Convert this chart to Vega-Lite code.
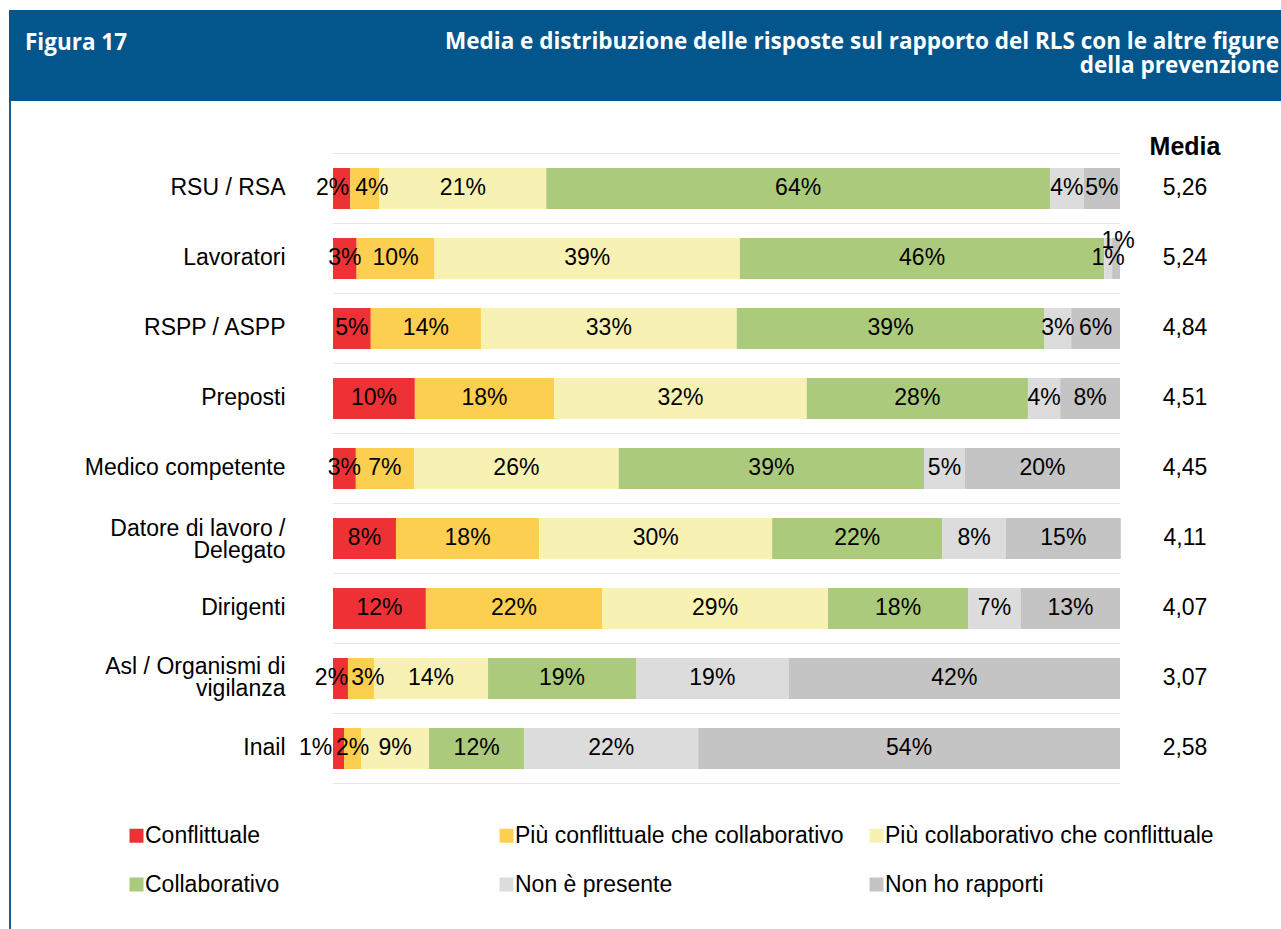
{
  "$schema": "https://vega.github.io/schema/vega-lite/v6.json",
  "padding": {"left": 7, "top": 10, "right": 0, "bottom": 0},
  "background": "white",
  "bounds": "flush",
  "spacing": 0,
  "config": {
    "view": {"stroke": null},
    "font": "Liberation Sans",
    "locale": {"number": {"decimal": ",", "thousands": ".", "grouping": [3], "currency": ["", " €"]}},
    "axisY": {"domain": false, "ticks": false, "grid": false, "labelPadding": 48, "labelFontSize": 23, "labelColor": "black", "labelLimit": 0, "labelFont": "Liberation Sans", "labelLineHeight": 22}
  },
  "datasets": {
    "dist": [
      {"category": "RSU / RSA", "status": "Conflittuale", "pct": 0.022},
      {"category": "RSU / RSA", "status": "Più conflittuale che collaborativo", "pct": 0.037},
      {"category": "RSU / RSA", "status": "Più collaborativo che conflittuale", "pct": 0.212},
      {"category": "RSU / RSA", "status": "Collaborativo", "pct": 0.640},
      {"category": "RSU / RSA", "status": "Non è presente", "pct": 0.043},
      {"category": "RSU / RSA", "status": "Non ho rapporti", "pct": 0.046},
      {"category": "Lavoratori", "status": "Conflittuale", "pct": 0.030},
      {"category": "Lavoratori", "status": "Più conflittuale che collaborativo", "pct": 0.099},
      {"category": "Lavoratori", "status": "Più collaborativo che conflittuale", "pct": 0.388},
      {"category": "Lavoratori", "status": "Collaborativo", "pct": 0.463},
      {"category": "Lavoratori", "status": "Non è presente", "pct": 0.010},
      {"category": "Lavoratori", "status": "Non ho rapporti", "pct": 0.010},
      {"category": "RSPP / ASPP", "status": "Conflittuale", "pct": 0.048},
      {"category": "RSPP / ASPP", "status": "Più conflittuale che collaborativo", "pct": 0.140},
      {"category": "RSPP / ASPP", "status": "Più collaborativo che conflittuale", "pct": 0.325},
      {"category": "RSPP / ASPP", "status": "Collaborativo", "pct": 0.391},
      {"category": "RSPP / ASPP", "status": "Non è presente", "pct": 0.034},
      {"category": "RSPP / ASPP", "status": "Non ho rapporti", "pct": 0.062},
      {"category": "Preposti", "status": "Conflittuale", "pct": 0.104},
      {"category": "Preposti", "status": "Più conflittuale che collaborativo", "pct": 0.177},
      {"category": "Preposti", "status": "Più collaborativo che conflittuale", "pct": 0.321},
      {"category": "Preposti", "status": "Collaborativo", "pct": 0.281},
      {"category": "Preposti", "status": "Non è presente", "pct": 0.041},
      {"category": "Preposti", "status": "Non ho rapporti", "pct": 0.076},
      {"category": "Medico competente", "status": "Conflittuale", "pct": 0.029},
      {"category": "Medico competente", "status": "Più conflittuale che collaborativo", "pct": 0.074},
      {"category": "Medico competente", "status": "Più collaborativo che conflittuale", "pct": 0.260},
      {"category": "Medico competente", "status": "Collaborativo", "pct": 0.388},
      {"category": "Medico competente", "status": "Non è presente", "pct": 0.052},
      {"category": "Medico competente", "status": "Non ho rapporti", "pct": 0.197},
      {"category": "Datore di lavoro / Delegato", "status": "Conflittuale", "pct": 0.080},
      {"category": "Datore di lavoro / Delegato", "status": "Più conflittuale che collaborativo", "pct": 0.182},
      {"category": "Datore di lavoro / Delegato", "status": "Più collaborativo che conflittuale", "pct": 0.296},
      {"category": "Datore di lavoro / Delegato", "status": "Collaborativo", "pct": 0.216},
      {"category": "Datore di lavoro / Delegato", "status": "Non è presente", "pct": 0.081},
      {"category": "Datore di lavoro / Delegato", "status": "Non ho rapporti", "pct": 0.146},
      {"category": "Dirigenti", "status": "Conflittuale", "pct": 0.118},
      {"category": "Dirigenti", "status": "Più conflittuale che collaborativo", "pct": 0.224},
      {"category": "Dirigenti", "status": "Più collaborativo che conflittuale", "pct": 0.287},
      {"category": "Dirigenti", "status": "Collaborativo", "pct": 0.178},
      {"category": "Dirigenti", "status": "Non è presente", "pct": 0.067},
      {"category": "Dirigenti", "status": "Non ho rapporti", "pct": 0.126},
      {"category": "Asl / Organismi di vigilanza", "status": "Conflittuale", "pct": 0.019},
      {"category": "Asl / Organismi di vigilanza", "status": "Più conflittuale che collaborativo", "pct": 0.033},
      {"category": "Asl / Organismi di vigilanza", "status": "Più collaborativo che conflittuale", "pct": 0.145},
      {"category": "Asl / Organismi di vigilanza", "status": "Collaborativo", "pct": 0.188},
      {"category": "Asl / Organismi di vigilanza", "status": "Non è presente", "pct": 0.194},
      {"category": "Asl / Organismi di vigilanza", "status": "Non ho rapporti", "pct": 0.421},
      {"category": "Inail", "status": "Conflittuale", "pct": 0.014},
      {"category": "Inail", "status": "Più conflittuale che collaborativo", "pct": 0.022},
      {"category": "Inail", "status": "Più collaborativo che conflittuale", "pct": 0.086},
      {"category": "Inail", "status": "Collaborativo", "pct": 0.121},
      {"category": "Inail", "status": "Non è presente", "pct": 0.221},
      {"category": "Inail", "status": "Non ho rapporti", "pct": 0.536}
    ],
    "media": [
      {"category": "RSU / RSA", "media": 5.26},
      {"category": "Lavoratori", "media": 5.24},
      {"category": "RSPP / ASPP", "media": 4.84},
      {"category": "Preposti", "media": 4.51},
      {"category": "Medico competente", "media": 4.45},
      {"category": "Datore di lavoro / Delegato", "media": 4.11},
      {"category": "Dirigenti", "media": 4.07},
      {"category": "Asl / Organismi di vigilanza", "media": 3.07},
      {"category": "Inail", "media": 2.58}
    ]
  },
  "vconcat": [
    {
      "width": 1272,
      "height": 91,
      "view": {"fill": "#03568b", "stroke": null},
      "data": {"values": [{"t": 1}]},
      "layer": [
        {
          "mark": {"type": "text", "text": "Figura 17", "font": "Open Sans", "fontWeight": "bold", "fontSize": 22.5, "color": "white", "align": "left", "baseline": "alphabetic", "dx": 16},
          "encoding": {
            "x": {"datum": 0, "type": "quantitative", "scale": {"domain": [0, 1], "nice": false, "zero": false}, "axis": null},
            "y": {"datum": 40, "type": "quantitative", "scale": {"domain": [0, 91], "reverse": true, "nice": false, "zero": false}, "axis": null}
          }
        },
        {
          "mark": {"type": "text", "text": ["Media e distribuzione delle risposte sul rapporto del RLS con le altre figure", "della prevenzione"], "font": "Open Sans", "fontWeight": "bold", "fontSize": 22.5, "color": "white", "align": "right", "baseline": "alphabetic", "lineHeight": 24, "dx": -2},
          "encoding": {
            "x": {"datum": 1, "type": "quantitative", "scale": {"domain": [0, 1], "nice": false, "zero": false}, "axis": null},
            "y": {"datum": 39, "type": "quantitative", "scale": {"domain": [0, 91], "reverse": true, "nice": false, "zero": false}, "axis": null}
          }
        }
      ]
    },
    {
      "bounds": "flush",
      "spacing": 322,
      "hconcat": [
        {
          "width": 2,
          "height": 828,
          "view": {"fill": "#1b5e95", "stroke": null},
          "data": {"values": [{"t": 1}]},
          "mark": {"type": "point", "opacity": 0},
          "encoding": {}
        },
        {
          "width": 787,
          "height": 683,
          "data": {"name": "dist"},
          "transform": [
            {"calculate": "indexof(['Conflittuale','Più conflittuale che collaborativo','Più collaborativo che conflittuale','Collaborativo','Non è presente','Non ho rapporti'], datum.status)", "as": "k"},
            {"stack": "pct", "groupby": ["category"], "sort": [{"field": "k"}], "as": ["x0", "x1"]},
            {"calculate": "(datum.x0 + datum.x1) / 2", "as": "xm"}
          ],
          "layer": [
            {
              "data": {"name": "media"},
              "mark": {"type": "rule", "color": "#e6e6e6", "strokeWidth": 1, "yOffset": -35},
              "encoding": {
                "x": {"datum": 0, "type": "quantitative", "scale": {"domain": [0, 1], "nice": false, "zero": false}, "axis": null},
                "x2": {"datum": 1},
                "y": {"field": "category", "type": "nominal", "title": null, "scale": {"domain": ["RSU / RSA", "Lavoratori", "RSPP / ASPP", "Preposti", "Medico competente", "Datore di lavoro / Delegato", "Dirigenti", "Asl / Organismi di vigilanza", "Inail"], "paddingInner": 0.414, "paddingOuter": 0.5856, "align": 0.817}}
              }
            },
            {
              "data": {"name": "media"},
              "transform": [{"filter": "datum.category == 'Inail'"}],
              "mark": {"type": "rule", "color": "#e6e6e6", "strokeWidth": 1, "yOffset": 35},
              "encoding": {
                "x": {"datum": 0, "type": "quantitative", "scale": {"domain": [0, 1], "nice": false, "zero": false}, "axis": null},
                "x2": {"datum": 1},
                "y": {"field": "category", "type": "nominal", "title": null}
              }
            },
            {
              "mark": {"type": "bar"},
              "encoding": {
                "x": {"field": "x0", "type": "quantitative", "scale": {"domain": [0, 1], "nice": false, "zero": false}, "axis": null},
                "x2": {"field": "x1"},
                "y": {"field": "category", "type": "nominal", "title": null, "axis": {
                  "labelExpr": "datum.label == 'Datore di lavoro / Delegato' ? ['Datore di lavoro /', 'Delegato'] : datum.label == 'Asl / Organismi di vigilanza' ? ['Asl / Organismi di', 'vigilanza'] : datum.label",
                  "labelOffset": {"expr": "datum.value == 'Datore di lavoro / Delegato' ? -9 : datum.value == 'Asl / Organismi di vigilanza' ? -11 : 0"}
                }},
                "color": {
                  "field": "status",
                  "type": "nominal",
                  "scale": {
                    "domain": ["Conflittuale", "Più conflittuale che collaborativo", "Più collaborativo che conflittuale", "Collaborativo", "Non è presente", "Non ho rapporti"],
                    "range": ["#ee3135", "#fdcf50", "#f8f1b4", "#acca7b", "#dcdcdc", "#c4c4c4"]
                  },
                  "legend": {
                    "orient": "none", "legendX": 116, "legendY": 814, "columns": 3, "direction": "horizontal", "gridAlign": "all",
                    "columnPadding": 21, "rowPadding": 25, "symbolType": "square", "symbolSize": 196,
                    "symbolStrokeWidth": 0, "symbolOpacity": 1, "labelFontSize": 23, "labelOffset": -3,
                    "labelColor": "black", "labelLimit": 0, "labelFont": "Liberation Sans", "title": null, "padding": 0
                  }
                }
              }
            },
            {
              "transform": [{"filter": "!((datum.status == 'Conflittuale' && indexof(['RSU / RSA', 'Asl / Organismi di vigilanza', 'Inail'], datum.category) >= 0) || (datum.status == 'Più conflittuale che collaborativo' && indexof(['RSU / RSA', 'Asl / Organismi di vigilanza'], datum.category) >= 0) || (datum.category == 'Lavoratori' && datum.status == 'Non ho rapporti'))"}],
              "mark": {"type": "text", "fontSize": 23, "color": "black", "font": "Liberation Sans"},
              "encoding": {
                "x": {"field": "xm", "type": "quantitative", "scale": {"domain": [0, 1], "nice": false, "zero": false}, "axis": null},
                "y": {"field": "category", "type": "nominal", "title": null},
                "text": {"field": "pct", "type": "quantitative", "format": ".0%"}
              }
            },
            {
              "transform": [{"filter": "datum.status == 'Conflittuale' && indexof(['RSU / RSA', 'Asl / Organismi di vigilanza'], datum.category) >= 0"}],
              "mark": {"type": "text", "fontSize": 23, "color": "black", "font": "Liberation Sans", "dx": -9},
              "encoding": {
                "x": {"field": "xm", "type": "quantitative", "scale": {"domain": [0, 1], "nice": false, "zero": false}, "axis": null},
                "y": {"field": "category", "type": "nominal", "title": null},
                "text": {"field": "pct", "type": "quantitative", "format": ".0%"}
              }
            },
            {
              "transform": [{"filter": "datum.status == 'Più conflittuale che collaborativo' && indexof(['RSU / RSA', 'Asl / Organismi di vigilanza'], datum.category) >= 0"}],
              "mark": {"type": "text", "fontSize": 23, "color": "black", "font": "Liberation Sans", "dx": 7},
              "encoding": {
                "x": {"field": "xm", "type": "quantitative", "scale": {"domain": [0, 1], "nice": false, "zero": false}, "axis": null},
                "y": {"field": "category", "type": "nominal", "title": null},
                "text": {"field": "pct", "type": "quantitative", "format": ".0%"}
              }
            },
            {
              "transform": [{"filter": "datum.status == 'Conflittuale' && datum.category == 'Inail'"}],
              "mark": {"type": "text", "fontSize": 23, "color": "black", "font": "Liberation Sans", "dx": -23},
              "encoding": {
                "x": {"field": "xm", "type": "quantitative", "scale": {"domain": [0, 1], "nice": false, "zero": false}, "axis": null},
                "y": {"field": "category", "type": "nominal", "title": null},
                "text": {"field": "pct", "type": "quantitative", "format": ".0%"}
              }
            },
            {
              "transform": [{"filter": "datum.category == 'Lavoratori' && datum.status == 'Non ho rapporti'"}],
              "mark": {"type": "text", "fontSize": 23, "color": "black", "font": "Liberation Sans", "dx": 2, "dy": -17},
              "encoding": {
                "x": {"field": "xm", "type": "quantitative", "scale": {"domain": [0, 1], "nice": false, "zero": false}, "axis": null},
                "y": {"field": "category", "type": "nominal", "title": null},
                "text": {"field": "pct", "type": "quantitative", "format": ".0%"}
              }
            },
            {
              "data": {"name": "media"},
              "transform": [{"filter": "datum.category == 'RSU / RSA'"}],
              "mark": {"type": "text", "text": "Media", "fontSize": 25, "fontWeight": "bold", "color": "black", "font": "Liberation Sans", "dy": -41},
              "encoding": {
                "x": {"datum": 1.0826, "type": "quantitative", "scale": {"domain": [0, 1], "nice": false, "zero": false}, "axis": null},
                "y": {"field": "category", "type": "nominal", "title": null}
              }
            },
            {
              "data": {"name": "media"},
              "mark": {"type": "text", "fontSize": 23, "color": "black", "font": "Liberation Sans"},
              "encoding": {
                "x": {"datum": 1.0826, "type": "quantitative", "scale": {"domain": [0, 1], "nice": false, "zero": false}, "axis": null},
                "y": {"field": "category", "type": "nominal", "title": null},
                "text": {"field": "media", "type": "quantitative", "format": ".2f"}
              }
            }
          ]
        }
      ]
    }
  ]
}
